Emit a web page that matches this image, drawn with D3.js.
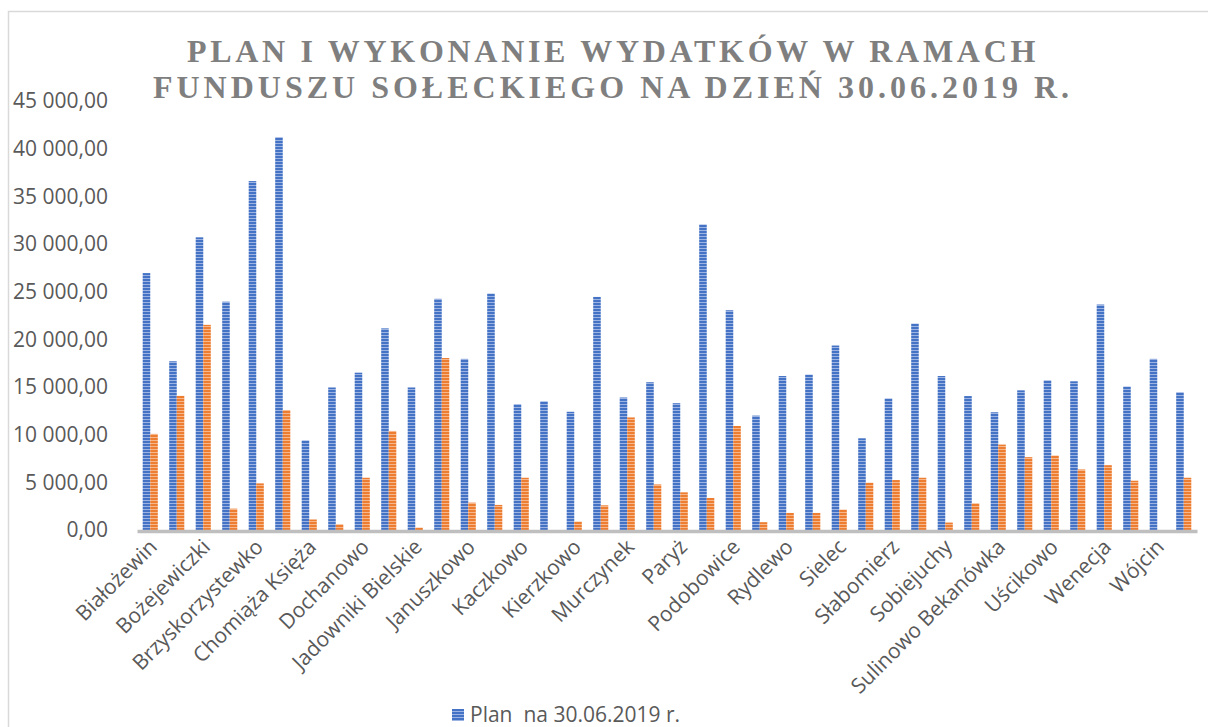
<!DOCTYPE html>
<html>
<head>
<meta charset="utf-8">
<script src="https://cdn.jsdelivr.net/npm/d3@7"></script>
<style>
  body { margin: 0; background: #fff; }
  svg { display: block; }
</style>
</head>
<body>
<svg id="chart"></svg>
<script>
const categories = [
  "Białożewin", "Bożejewice", "Bożejewiczki", "Brzyskorzystew", "Brzyskorzystewko",
  "Cerekwica", "Chomiąża Księża", "Dobrylewo", "Dochanowo", "Gorzyce",
  "Jadowniki Bielskie", "Jadowniki Rycerskie", "Januszkowo", "Jaroszewo", "Kaczkowo",
  "Kaczkówko", "Kierzkowo", "Murczyn", "Murczynek", "Nadborowo",
  "Paryż", "Podgórzyn", "Podobowice", "Redczyce", "Rydlewo",
  "Sarbinowo", "Sielec", "Skarbienice", "Słabomierz", "Słębowo",
  "Sobiejuchy", "Sulinowo", "Sulinowo Bekanówka", "Ustaszewo", "Uścikowo",
  "Wawrzynki", "Wenecja", "Wilczkowo", "Wójcin", "Żnin-Wieś"
];

const plan = [
  26950, 17700, 30700, 23950, 36600, 41200, 9400, 14950, 16500, 21150,
  14950, 24250, 17950, 24800, 13200, 13500, 12400, 24450, 13900, 15500,
  13300, 32050, 23050, 12000, 16150, 16300, 19350, 9620, 13800, 21650,
  16150, 14050, 12350, 14650, 15700, 15600, 23650, 15050, 17950, 14450
];

const wykonanie = [
  10080, 14070, 21520, 2240, 4890, 12580, 1100, 600, 5480, 10390,
  250, 18040, 2870, 2630, 5480, 0, 880, 2590, 11810, 4780,
  3950, 3360, 10910, 820, 1790, 1790, 2140, 4960, 5240, 5480,
  780, 2800, 8960, 7640, 7810, 6350, 6800, 5170, 0, 5480
];

const seriesNames = ["Plan  na 30.06.2019 r.", "Wykonanie na 30.06.2019 r."];
const yTicks = [0, 5000, 10000, 15000, 20000, 25000, 30000, 35000, 40000, 45000];
const titleLines = [
  "PLAN I WYKONANIE WYDATKÓW W RAMACH",
  "FUNDUSZU SOŁECKIEGO NA DZIEŃ 30.06.2019 R."
];

const width = 1208;
const height = 727;
const textColor = "#595959";
const font = "'Open Sans', sans-serif";

const svg = d3.select("#chart")
  .attr("width", width)
  .attr("height", height);

// stripe patterns like the Excel fill
const defs = svg.append("defs");
function stripes(id, base, light) {
  const p = defs.append("pattern")
    .attr("id", id)
    .attr("patternUnits", "userSpaceOnUse")
    .attr("width", 6)
    .attr("height", 3);
  p.append("rect").attr("width", 6).attr("height", 3).attr("fill", base);
  p.append("rect").attr("y", 2).attr("width", 6).attr("height", 1).attr("fill", light);
}
stripes("stripe-blue", "#4472c4", "#9db3e2");
stripes("stripe-orange", "#ed7d31", "#f6b78c");
const fills = ["url(#stripe-blue)", "url(#stripe-orange)"];

// chart frame
svg.append("rect")
  .attr("x", 8.5)
  .attr("y", 11.5)
  .attr("width", width + 20)
  .attr("height", height + 40)
  .attr("fill", "none")
  .attr("stroke", "#d9d9d9")
  .attr("stroke-width", 1.5);

// title
svg.append("g")
  .selectAll("text")
  .data(titleLines)
  .join("text")
  .attr("x", 613)
  .attr("y", (d, i) => 62 + i * 36)
  .attr("text-anchor", "middle")
  .attr("fill", "#7f7f7f")
  .style("font-family", "'Liberation Serif', 'Times New Roman', serif")
  .style("font-weight", "bold")
  .style("font-size", "32px")
  .style("letter-spacing", (d, i) => i === 0 ? "3.7px" : "4px")
  .text(d => d);

// scales
const x = d3.scaleBand()
  .domain(categories)
  .range([137, 1197])
  .paddingInner(0.43)
  .paddingOuter(0.215);

const xSub = d3.scaleBand()
  .domain([0, 1])
  .range([0, x.bandwidth()]);

const y = d3.scaleLinear()
  .domain([0, 45000])
  .range([530, 101]);

const pl = d3.formatLocale({ decimal: ",", thousands: " ", grouping: [3], currency: ["", ""] });
const fmt = pl.format(",.2f");

// y axis labels only
const yAxis = svg.append("g")
  .attr("transform", "translate(137,0)")
  .call(d3.axisLeft(y).tickValues(yTicks).tickFormat(fmt).tickSize(0).tickPadding(29));
yAxis.select(".domain").remove();
yAxis.selectAll("text")
  .attr("fill", textColor)
  .style("font-family", font)
  .style("font-size", "21px");

// bars
const rows = categories.map((c, i) => ({ cat: c, values: [plan[i], wykonanie[i]] }));

svg.append("g")
  .selectAll("g")
  .data(rows)
  .join("g")
  .attr("transform", d => `translate(${x(d.cat)},0)`)
  .selectAll("rect")
  .data(d => d.values.map((v, k) => ({ k, v })))
  .join("rect")
  .attr("x", d => xSub(d.k))
  .attr("y", d => y(d.v))
  .attr("width", xSub.bandwidth())
  .attr("height", d => y(0) - y(d.v))
  .attr("fill", d => fills[d.k]);

// category axis
const xAxis = svg.append("g")
  .attr("transform", `translate(0,${y(0)})`)
  .call(d3.axisBottom(x)
    .tickValues(categories.filter((d, i) => i % 2 === 0))
    .tickSize(0)
    .tickPadding(0));
xAxis.select(".domain")
  .attr("stroke", "#bfbfbf")
  .attr("stroke-width", 3.5)
  .attr("transform", "translate(0,1)");
xAxis.selectAll("text")
  .attr("fill", textColor)
  .style("font-family", font)
  .style("font-size", "21px")
  .attr("text-anchor", "end")
  .attr("x", 0)
  .attr("y", 0)
  .attr("dy", "0.35em")
  .attr("transform", "translate(3,13) rotate(-45)");

// legend (only first entry falls inside the picture)
const legend = svg.append("g").attr("transform", "translate(452,709)");
legend.append("rect")
  .attr("width", 12)
  .attr("height", 12)
  .attr("fill", fills[0]);
legend.append("text")
  .attr("x", 18)
  .attr("y", 6)
  .attr("dy", "0.35em")
  .attr("fill", textColor)
  .style("font-family", font)
  .style("font-size", "21px")
  .style("white-space", "pre")
  .text(seriesNames[0]);
</script>
</body>
</html>
